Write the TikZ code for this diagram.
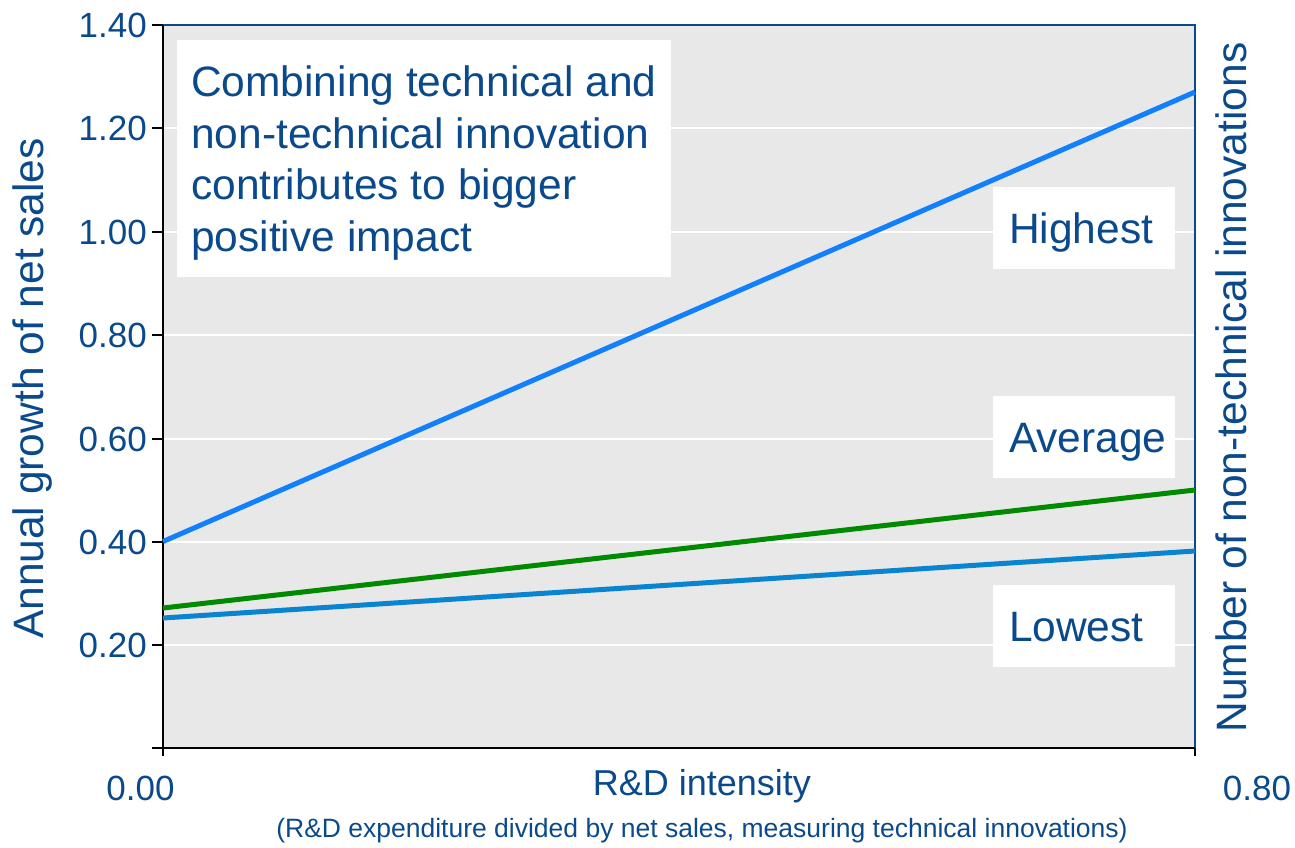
\documentclass[tikz,border=0pt]{standalone}
\usepackage{fontspec}
\setmainfont{Liberation Sans}
\definecolor{txtblue}{RGB}{10,74,140}
\definecolor{plotbg}{RGB}{232,232,232}
\definecolor{hiblue}{RGB}{17,128,255}
\definecolor{loblue}{RGB}{8,132,208}
\definecolor{avgreen}{RGB}{0,138,0}
\begin{document}
\begin{tikzpicture}[x=1pt,y=-1pt,
  bigfont/.style={font=\fontsize{42.5}{51.5}\selectfont},
  tickfont/.style={font=\fontsize{35}{40}\selectfont},
  labelbox/.style={fill=white, text=txtblue, bigfont, text width=150pt, align=left,
     inner xsep=16pt, inner ysep=0pt, text height=31pt, text depth=0pt, minimum height=82pt},
  series/.style={line width=5pt},
  grid line/.style={white, line width=2.5pt},
  axis line/.style={black, line width=2pt},
  frame line/.style={txtblue, line width=2pt},
]
\useasboundingbox (0,0) rectangle (1295,847);
% plot area
\fill[plotbg] (163,25) rectangle (1195,748);
\foreach \yy in {128,232,335,439,542,645} \draw[grid line] (163,\yy) -- (1195,\yy);
\draw[frame line] (163,25) -- (1195,25) -- (1195,748);
\draw[axis line] (163,25) -- (163,756);
\draw[axis line] (152,748) -- (1195,748);
\draw[axis line] (1195,748) -- (1195,756);
\foreach \yy in {25,128,232,335,439,542,645} \draw[axis line] (152,\yy) -- (163,\yy);
% y tick labels
\foreach \yy/\lab in {25/1.40,128/1.20,232/1.00,335/0.80,439/0.60,542/0.40,645/0.20}
  \node[tickfont, text=txtblue, anchor=east, inner sep=0pt] (tick\lab) at (147,\yy) {\lab};
% series
\coordinate (h0) at (163,541.5); \coordinate (h1) at (1195,92);
\coordinate (a0) at (163,608);   \coordinate (a1) at (1195,490);
\coordinate (l0) at (163,618);   \coordinate (l1) at (1195,551);
\draw[series, hiblue] (h0) -- (h1);
\draw[series, avgreen] (a0) -- (a1);
\draw[series, loblue] (l0) -- (l1);
% note box
\node[fill=white, text=txtblue, bigfont, anchor=north west, align=left,
      inner xsep=14pt, inner ysep=0pt, minimum width=492pt, minimum height=237pt] (note) at (177,40)
  {Combining technical and\\non-technical innovation\\contributes to bigger\\\raisebox{0pt}[\height][0pt]{positive impact}};
% series labels
\node[labelbox] (highest) at (1084,228) {Highest};
\node[labelbox] (average) at (1084,436.5) {Average};
\node[labelbox] (lowest) at (1084,625.5) {Lowest};
% axis labels
\node[tickfont, text=txtblue, inner sep=0pt] (x0) at (140.5,788) {0.00};
\node[tickfont, text=txtblue, inner sep=0pt] (x1) at (1257,788) {0.80};
\node[font=\fontsize{36}{40}\selectfont, text=txtblue, inner sep=0pt] (xlab) at (702,786) {R\&D intensity};
\node[font=\fontsize{26.5}{30}\selectfont, text=txtblue, inner sep=0pt] (xsub) at (702,831)
  {(R\&D expenditure divided by net sales, measuring technical innovations)};
\node[bigfont, text=txtblue, rotate=90, inner sep=0pt] (ylab) at (33,388.5) {Annual growth of net sales};
\node[bigfont, text=txtblue, rotate=90, inner sep=0pt] (ylab2) at (1231,387.5) {Number of non-technical innovations};
\end{tikzpicture}
\end{document}
